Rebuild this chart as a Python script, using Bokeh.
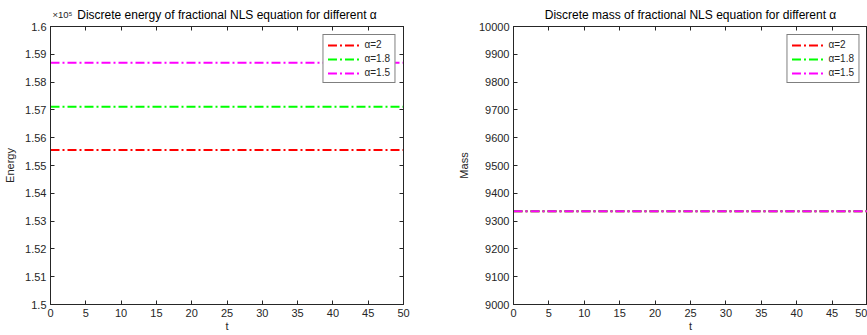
from bokeh.plotting import figure
from bokeh.layouts import row
from bokeh.models import (LinearAxis, Legend, LegendItem, FixedTicker,
                          CustomJSTickFormatter, Label, Range1d)
from bokeh.embed import file_html
from bokeh.resources import INLINE

# ---- data ----
t = [0, 50]
series_labels = ["α=2", "α=1.8", "α=1.5"]
series_colors = ["#ff0000", "#00ff00", "#ff00ff"]
energy = [155560, 157110, 158700]          # constant in time
mass = [9335, 9335, 9335]                   # constant in time (overlapping)
x_ticks = [0, 5, 10, 15, 20, 25, 30, 35, 40, 45, 50]
energy_ticks = [150000, 151000, 152000, 153000, 154000, 155000,
                156000, 157000, 158000, 159000, 160000]
mass_ticks = [9000, 9100, 9200, 9300, 9400, 9500,
              9600, 9700, 9800, 9900, 10000]

FONT = "Liberation Sans"
AX = "#262626"


def style_axis(ax, show_labels=True):
    ax.axis_line_color = AX
    ax.major_tick_line_color = AX
    ax.major_tick_in = 4
    ax.major_tick_out = 0
    ax.minor_tick_line_color = None
    ax.major_label_text_font = FONT
    ax.major_label_text_font_size = "11px"
    ax.major_label_text_color = AX
    ax.axis_label_text_font = FONT
    ax.axis_label_text_font_size = "11px"
    ax.axis_label_text_font_style = "normal"
    ax.axis_label_text_color = AX
    ax.major_label_standoff = 4 if show_labels else 0
    if not show_labels:
        ax.formatter = CustomJSTickFormatter(code="return '';")


def make(title, ylabel, yr, yticks, values, width, bl, br, yfmt, right_axis):
    p = figure(width=width, height=335, x_range=Range1d(0, 50),
               y_range=Range1d(*yr), output_backend="svg",
               toolbar_location=None, min_border_left=bl,
               min_border_right=br, min_border_top=26, min_border_bottom=31)
    p.title.text = title
    p.title.align = "center"
    p.title.text_font = FONT
    p.title.text_font_size = "12px"
    p.title.text_font_style = "normal"
    p.title.text_color = "#000000"
    p.title.standoff = 10
    p.xgrid.visible = False
    p.ygrid.visible = False
    p.outline_line_color = AX
    p.outline_line_alpha = 1
    p.background_fill_color = "white"
    p.border_fill_color = "white"

    p.xaxis.ticker = FixedTicker(ticks=x_ticks)
    p.yaxis.ticker = FixedTicker(ticks=yticks)
    if yfmt is not None:
        p.yaxis.formatter = yfmt
    p.xaxis.axis_label = "t"
    p.yaxis.axis_label = ylabel
    for ax in p.xaxis + p.yaxis:
        style_axis(ax)
    p.xaxis.axis_label_standoff = 0
    p.yaxis.axis_label_standoff = 6

    top = LinearAxis(ticker=FixedTicker(ticks=x_ticks))
    style_axis(top, show_labels=False)
    p.add_layout(top, "above")
    if right_axis:
        rt = LinearAxis(ticker=FixedTicker(ticks=yticks))
        style_axis(rt, show_labels=False)
        p.add_layout(rt, "right")

    items = []
    for lab, col, v in zip(series_labels, series_colors, values):
        r = p.line(t, [v, v], line_color=col, line_width=2,
                   line_dash="9 3 2 3")
        items.append(LegendItem(label=lab, renderers=[r]))
    leg = Legend(items=items, location="top_right")
    leg.label_text_font = FONT
    leg.label_text_font_size = "10px"
    leg.label_text_color = AX
    leg.glyph_width = 32
    leg.glyph_height = 10
    leg.label_height = 10
    leg.spacing = 3
    leg.padding = 4
    leg.margin = 8
    leg.border_line_color = "#000000"
    leg.border_line_width = 1
    leg.background_fill_alpha = 1
    p.add_layout(leg)
    return p


efmt = CustomJSTickFormatter(code="return String(parseFloat((tick/1e5).toFixed(2)));")
p1 = make("Discrete energy of fractional NLS equation for different α", "Energy",
          (150000, 160000), energy_ticks, energy, 433, 50, 30, efmt, True)
# exponent label hosted in the (roomy) right side panel so it is not clipped to the frame
p1.add_layout(Label(x=0, y=160000, x_offset=2, y_offset=12,
                    text="×10⁵", text_font=FONT, text_font_size="9.5px",
                    text_color=AX, text_baseline="middle"), "right")
p2 = make("Discrete mass of fractional NLS equation for different α", "Mass",
          (9000, 10000), mass_ticks, mass, 434, 80, 0, None, False)

layout = row(p1, p2)
open("out.html", "w").write(file_html(layout, INLINE))
